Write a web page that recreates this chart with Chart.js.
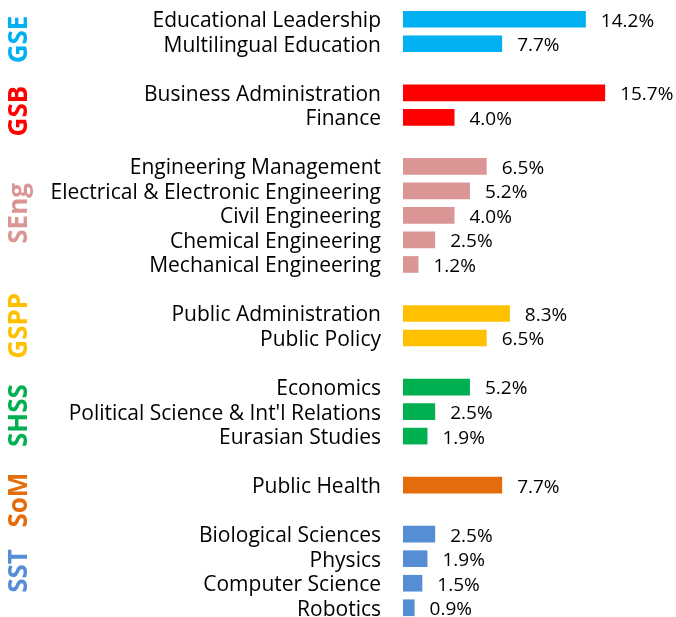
<!DOCTYPE html>
<html>
<head>
<meta charset="utf-8">
<script src="https://cdn.jsdelivr.net/npm/chart.js@4.4.0/dist/chart.umd.min.js"></script>
<style>
  body { margin: 0; background: #fff; overflow: hidden; }
  #wrap { width: 676px; height: 620px; position: relative; }
</style>
</head>
<body>
<div id="wrap"><canvas id="mycanvas"></canvas></div>
<script>
// blank entries are the gaps between schools
var categories = ['Educational Leadership', 'Multilingual Education', '',
	'Business Administration', 'Finance', '',
	'Engineering Management', 'Electrical & Electronic Engineering', 'Civil Engineering', 'Chemical Engineering', 'Mechanical Engineering', '',
	'Public Administration', 'Public Policy', '',
	'Economics', "Political Science & Int'l Relations", 'Eurasian Studies', '',
	'Public Health', '',
	'Biological Sciences', 'Physics', 'Computer Science', 'Robotics'];
var values = [14.2, 7.7, null,
	15.7, 4.0, null,
	6.5, 5.2, 4.0, 2.5, 1.2, null,
	8.3, 6.5, null,
	5.2, 2.5, 1.9, null,
	7.7, null,
	2.5, 1.9, 1.5, 0.9];
var schoolOf = [0, 0, -1, 1, 1, -1, 2, 2, 2, 2, 2, -1, 3, 3, -1, 4, 4, 4, -1, 5, -1, 6, 6, 6, 6];
var schools = ['GSE', 'GSB', 'SEng', 'GSPP', 'SHSS', 'SoM', 'SST'];
var schoolColors = ['#00B0F0', '#FF0000', '#DA9694', '#FFC000', '#00B050', '#E46C0A', '#558ED5'];

var FONT = "'Open Sans', 'DejaVu Sans', sans-serif";
// the school names are not quite centred on their groups in the original
var nameShift = [8, 6, -2, 0, 4, 15, 0];

var barColors = [];
for (var i in schoolOf) {
	barColors.push(schoolOf[i] >= 0 ? schoolColors[schoolOf[i]] : 'rgba(0,0,0,0)');
}

var labelPlugin = {
	id: 'labelPlugin',
	afterDatasetsDraw: function(chart) {
		var ctx = chart.ctx;
		var meta = chart.getDatasetMeta(0);
		var yScale = chart.scales.y;
		ctx.save();
		// value labels at bar ends
		ctx.font = '19px ' + FONT;
		ctx.fillStyle = '#000';
		ctx.textAlign = 'left';
		ctx.textBaseline = 'middle';
		meta.data.forEach(function(bar, i) {
			if (values[i] == null) return;
			ctx.fillText(values[i].toFixed(1) + '%', bar.x + 15, bar.y + 2);
		});
		// school names, rotated
		ctx.font = 'bold 26px ' + FONT;
		ctx.textAlign = 'center';
		schools.forEach(function(name, s) {
			var first = schoolOf.indexOf(s);
			var last = schoolOf.lastIndexOf(s);
			var yc = (yScale.getPixelForValue(first) + yScale.getPixelForValue(last)) / 2 + nameShift[s];
			ctx.save();
			ctx.translate(20, yc);
			ctx.rotate(-Math.PI / 2);
			ctx.fillStyle = schoolColors[s];
			ctx.fillText(name, 0, 0);
			ctx.restore();
		});
		ctx.restore();
	}
};

var ctx = document.getElementById('mycanvas');

var barGraph = new Chart(ctx, {
	type: 'bar',
	data: {
		labels: categories,
		datasets: [{
			data: values,
			backgroundColor: barColors,
			borderWidth: 0,
			barPercentage: 0.68,
			categoryPercentage: 1
		}]
	},
	options: {
		indexAxis: 'y',
		responsive: true,
		maintainAspectRatio: false,
		animation: false,
		layout: { padding: { top: 7, bottom: 0, right: 67, left: 0 } },
		plugins: {
			legend: { display: false },
			tooltip: { enabled: false }
		},
		scales: {
			x: {
				display: false,
				min: 0,
				max: 16
			},
			y: {
				grid: { display: false, drawTicks: false },
				border: { display: false },
				ticks: {
					padding: 22,
					labelOffset: 2,
					color: '#000',
					autoSkip: false,
					font: { family: FONT, size: 21 }
				},
				afterFit: function(scale) {
					scale.width = 403;
					scale.paddingTop = 0;
					scale.paddingBottom = 0;
				}
			}
		}
	},
	plugins: [labelPlugin]
});
</script>
</body>
</html>
